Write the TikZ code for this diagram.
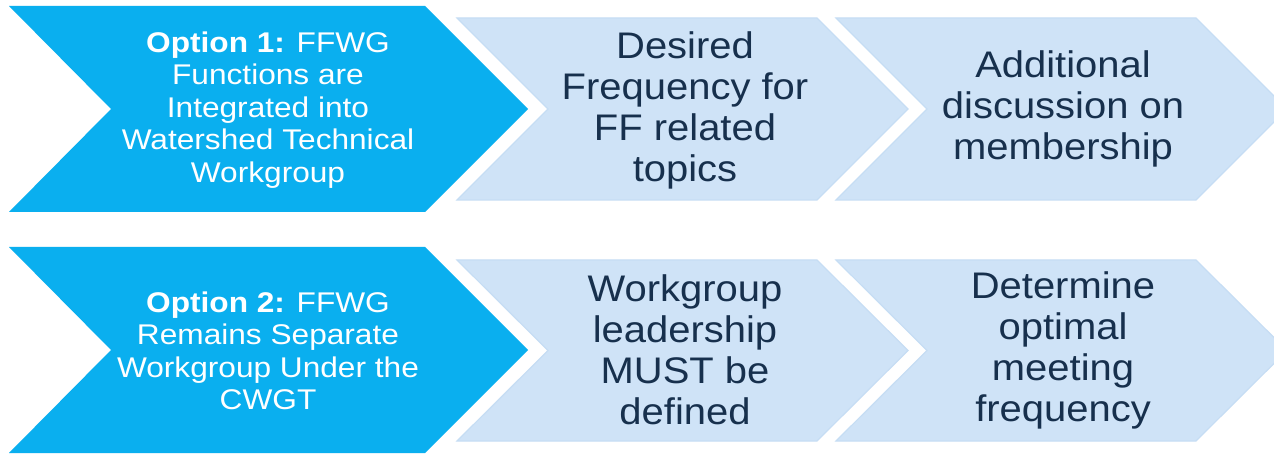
\documentclass[tikz,border=0pt]{standalone}
\usepackage{fontspec}
\setmainfont{Liberation Sans}
\newfontfamily\bigfont[FakeStretch=1.11]{Liberation Sans}
\newfontfamily\lightfont[FakeStretch=1.08]{Liberation Sans}
\definecolor{bigblue}{HTML}{0AAFEF}
\definecolor{lightblue}{HTML}{CFE3F7}
\definecolor{lightedge}{HTML}{C6DDF4}
\definecolor{navy}{HTML}{17304D}
\tikzset{
  bigchev/.style={fill=bigblue},
  lightchev/.style={fill=lightblue, draw=lightedge, line width=1.2pt},
  bigtext/.style={text=white, align=center, font=\bigfont\fontsize{28.5}{32.5}\selectfont, inner sep=0pt},
  lighttext/.style={text=navy, align=center, font=\lightfont\fontsize{37}{41}\selectfont, inner sep=0pt}
}
\begin{document}
\begin{tikzpicture}[x=1pt,y=-1pt]
\useasboundingbox (0,0) rectangle (1274,454);
\clip (0,0) rectangle (1274,454);
\fill[white] (0,0) rectangle (1274,454);
% row 1
\path[bigchev] (9,6) -- (425,6) -- (528,109) -- (425,212) -- (9,212) -- (111,109) -- cycle;
\path[lightchev] (457,18) -- (817,18) -- (908,109) -- (817,200) -- (457,200) -- (548,109) -- cycle;
\path[lightchev] (836,18) -- (1196,18) -- (1287,109) -- (1196,200) -- (836,200) -- (927,109) -- cycle;
\node[bigtext] (o1) at (268,110) {\textbf{Option 1:} FFWG\\Functions are\\Integrated into\\Watershed Technical\\Workgroup};
\node[lighttext] (a1) at (685,110) {Desired\\Frequency for\\FF related\\topics};
\node[lighttext] (b1) at (1063,109) {Additional\\discussion on\\membership};
% row 2
\path[bigchev] (9,247) -- (425,247) -- (528,350) -- (425,453) -- (9,453) -- (111,350) -- cycle;
\path[lightchev] (457,260) -- (817,260) -- (908,350.5) -- (817,441) -- (457,441) -- (548,350.5) -- cycle;
\path[lightchev] (836,260) -- (1196,260) -- (1287,350.5) -- (1196,441) -- (836,441) -- (927,350.5) -- cycle;
\node[bigtext] (o2) at (268,351) {\textbf{Option 2:} FFWG\\Remains Separate\\Workgroup Under the\\CWGT};
\node[lighttext] (a2) at (685,350) {Workgroup\\leadership\\MUST be\\defined};
\node[lighttext] (b2) at (1063,350) {Determine\\optimal\\meeting\\frequency};
\end{tikzpicture}
\end{document}
